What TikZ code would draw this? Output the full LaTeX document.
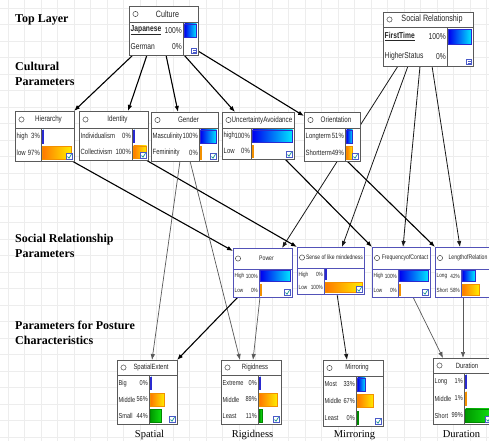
\documentclass[tikz,border=0pt]{standalone}
\usepackage{fontspec}
\setmainfont{Liberation Serif}
\newfontfamily\nodefont[FakeStretch=0.78]{Liberation Sans}
\usetikzlibrary{calc,arrows.meta}
\pgfdeclarelayer{back}
\pgfdeclarelayer{edges}
\pgfsetlayers{back,edges,main}
\definecolor{gridc}{HTML}{EDEDED}
\definecolor{greyb}{HTML}{5A5A5A}
\definecolor{blueb}{HTML}{5252B8}
\definecolor{txt}{HTML}{262626}
\definecolor{bA}{HTML}{0000F0}
\definecolor{bB}{HTML}{00E8FF}
\definecolor{bD}{HTML}{2A2AD0}
\definecolor{oA}{HTML}{FF7A00}
\definecolor{oB}{HTML}{FFEE00}
\definecolor{oD}{HTML}{F29000}
\definecolor{gA}{HTML}{009A00}
\definecolor{gB}{HTML}{10E010}
\definecolor{gD}{HTML}{008800}
\definecolor{chkb}{HTML}{4A5AC8}
\definecolor{chkg}{HTML}{109090}
\tikzset{
  bnbox/.style={draw=#1, line width=0.8pt, fill=white, inner sep=0pt, outer sep=0pt, rectangle},
  arrK/.style={-{Latex[length=6pt,width=4.5pt]}, line width=1.1pt, draw=black},
  arrT/.style={-{Latex[length=6pt,width=4.5pt]}, line width=0.8pt, draw=black!90},
  arrG/.style={-{Latex[length=6pt,width=4.5pt]}, line width=0.7pt, draw=black!65},
  layerlab/.style={font=\bfseries\fontsize{12}{15}\selectfont, align=left, anchor=base west, inner sep=0pt},
  botlab/.style={font=\fontsize{10.5}{12}\selectfont, anchor=base, inner sep=0pt},
}
\def\bnf{\fontsize{8}{9}\nodefont}
\def\bnco{6.5}
\def\bnto{4}
% box: name, x1, y1, x2, y2, title bottom, bar column x, border colour, title
\newcommand\bnnode[9]{%
  \node[bnbox=#8, minimum width={(#4-#2)*1pt}, minimum height={(#5-#3)*1pt}] (#1) at ({(#2+#4)/2},{(#3+#5)/2}) {};
  \draw[draw=#8, line width=0.6pt] (#2,#6) -- (#4,#6) (#7,#6) -- (#7,#5);
  \draw[draw=black!70, line width=0.5pt] ({#2+\bnco},{(#3+#6)/2}) circle[radius=2.6];
  \node[inner sep=0pt, text=txt, font=\bnf] at ({(#2+#4)/2+\bnto},{(#3+#6)/2}) {#9};
}
% rows: x1, title bottom, bar x, x2, y2, number of rows, list
\newcommand\bnrows[7]{%
  \pgfmathsetmacro\bnrh{(#5-#2)/#6}%
  \foreach \rlab/\rpc/\rfr/\rcol [count=\ri] in {#7} {%
    \pgfmathsetmacro\yc{#2+(\ri-0.5)*\bnrh}%
    \pgfmathsetmacro\bh{0.78*\bnrh}%
    \pgfmathsetmacro\bw{max(\rfr*(#4-#3-3),0.9)}%
    \pgfmathtruncatemacro\nobar{(\rfr<0)?1:0}%
    \ifnum\nobar=0
      \edef\bardraw{\noexpand\shadedraw[left color=\rcol A,right color=\rcol B,draw=\rcol D,line width=0.3pt]}%
      \bardraw ({#3+1.5},{\yc-\bh/2}) rectangle ({#3+1.5+\bw},{\yc+\bh/2});
    \fi
    \node[anchor=west, inner sep=0pt, text=txt, font=\bnf] at ({#1+1.5},\yc) {\rlab};
    \node[anchor=east, inner sep=0pt, text=txt, font=\bnf] at ({#3-1},\yc) {\rpc};
  }%
}
\newcommand\bncheck[2]{%
  \draw[draw=chkb, fill=white, line width=0.5pt] ({#1-7.5},{#2-7.5}) rectangle ({#1-1.5},{#2-1.5});
  \draw[draw=chkg, line width=0.7pt] ({#1-6.5},{#2-4.5}) -- ({#1-5},{#2-2.8}) -- ({#1-2.5},{#2-6.8});
}
\newcommand\bnlist[2]{%
  \draw[draw=chkb, fill=white, line width=0.5pt] ({#1-6.5},{#2-6.5}) rectangle ({#1-1.5},{#2-1.5});
  \draw[draw=chkb, line width=0.4pt] ({#1-5.5},{#2-4.8}) -- ({#1-2.5},{#2-4.8}) ({#1-5.5},{#2-3.2}) -- ({#1-2.5},{#2-3.2});
}
\begin{document}
\begin{tikzpicture}[x=1pt,y=-1pt]
\useasboundingbox (0,0) rectangle (489,441);
\begin{pgfonlayer}{back}
  \fill[white] (0,0) rectangle (489,441);
  \foreach \g in {8,24.5,...,489} \draw[gridc, line width=0.4pt] (\g,0) -- (\g,441);
  \foreach \g in {8,24.5,...,441} \draw[gridc, line width=0.4pt] (0,\g) -- (489,\g);
\end{pgfonlayer}

% layer labels
\node[layerlab] (ltop) at (15,23) {Top Layer};
\node[layerlab] (lcult) at (15,86) {Cultural\\Parameters};
\node[layerlab] (lsoc) at (15,257) {Social Relationship\\Parameters};
\node[layerlab] (lpost) at (15,344) {Parameters for Posture\\Characteristics};

% top layer
\def\bnf{\fontsize{9.2}{10}\nodefont}
\bnnode{culture}{129}{6}{198}{55}{22}{183}{greyb}{Culture}
\bnnode{social}{383}{12}{473}{66}{27}{447}{greyb}{Social Relationship}
\def\bnf{\fontsize{8.6}{10}\nodefont}
\bnrows{129}{22}{183}{198}{55}{2}{\underline{\textbf{Japanese}}/100\%/1/b, German/0\%/-1/o}
\bnlist{198}{55}
\bnrows{383}{27}{447}{473}{66}{2}{\underline{\textbf{FirstTime}}/100\%/1/b, HigherStatus/0\%/-1/o}
\bnlist{473}{66}

% cultural parameters
\def\bnf{\fontsize{8}{9}\nodefont}
\bnnode{hier}{15}{111}{74}{161}{128}{41}{greyb}{Hierarchy}
\bnnode{ident}{79}{111}{148}{160}{128}{132}{greyb}{Identity}
\bnnode{gender}{151}{112}{218}{161}{128}{199}{greyb}{Gender}
\bnnode{ua}{222}{112}{294}{159}{128}{251}{greyb}{UncertaintyAvoidance}
\bnnode{orient}{304}{112}{360}{161}{128}{345}{greyb}{Orientation}
\def\bnf{\fontsize{7.6}{9}\nodefont}
\bnrows{15}{128}{41}{74}{161}{2}{high/3\%/0.03/b, low/97\%/0.97/o}
\bncheck{74}{161}
\bnrows{79}{128}{132}{148}{160}{2}{Individualism/0\%/0/b, Collectivism/100\%/1/o}
\bncheck{148}{160}
\bnrows{151}{128}{199}{218}{161}{2}{Masculinity/100\%/1/b, Femininity/0\%/0/o}
\bncheck{218}{161}
\bnrows{222}{128}{251}{294}{159}{2}{high/100\%/1/b, Low/0\%/0/o}
\bncheck{294}{159}
\bnrows{304}{128}{345}{360}{161}{2}{Longterm/51\%/0.51/b, Shortterm/49\%/0.49/o}
\bncheck{360}{161}

% social relationship parameters
\def\bnco{5}
\def\bnf{\fontsize{6.6}{7.5}\nodefont}
\bnnode{power}{233}{248}{292}{297}{269}{259}{blueb}{Power}
\bnnode{freq}{372}{247}{430}{297}{269}{398}{blueb}{FrequencyofContact}
\bnnode{length}{435}{247}{493}{297}{269}{461}{blueb}{LengthofRelation}
\def\bnf{\fontsize{6.4}{7.5}\nodefont}
\bnnode{sense}{297}{247}{364}{294}{268}{324}{blueb}{Sense of like mindedness}
\def\bnf{\fontsize{6.0}{7}\nodefont}
\bnrows{233}{269}{259}{292}{297}{2}{High/100\%/1/b, Low/0\%/0/o}
\bncheck{292}{297}
\bnrows{297}{268}{324}{364}{294}{2}{High/0\%/0/b, Low/100\%/1/o}
\bncheck{364}{294}
\bnrows{372}{269}{398}{430}{297}{2}{High/100\%/1/b, Low/0\%/0/o}
\bncheck{430}{297}
\bnrows{435}{269}{461}{493}{297}{2}{Long/42\%/0.42/b, Short/58\%/0.58/o}

% posture characteristics
\def\bnco{6.5}
\def\bnf{\fontsize{7.6}{8.5}\nodefont}
\bnnode{spatial}{117}{360}{177}{424}{375}{149}{greyb}{SpatialExtent}
\bnnode{rigid}{221}{360}{281}{424}{375}{258}{greyb}{Rigidness}
\bnnode{mirror}{323}{360}{383}{426}{376}{356}{greyb}{Mirroring}
\bnnode{duration}{433}{358}{493}{424}{373}{464}{greyb}{Duration}
\def\bnf{\fontsize{7.2}{8.5}\nodefont}
\bnrows{117}{375}{149}{177}{424}{3}{Big/0\%/0/b, Middle/56\%/0.56/o, Small/44\%/0.44/g}
\bncheck{177}{424}
\bnrows{221}{375}{258}{281}{424}{3}{Extreme/0\%/0/b, Middle/89\%/0.89/o, Least/11\%/0.11/g}
\bncheck{281}{424}
\bnrows{323}{376}{356}{383}{426}{3}{Most/33\%/0.33/b, Middle/67\%/0.67/o, Least/0\%/0/g}
\bncheck{383}{426}
\bnrows{433}{373}{464}{493}{424}{3}{Long/1\%/0.01/b, Middle/1\%/0.01/o, Short/99\%/0.99/g}
\bncheck{493}{424}

% bottom labels
\node[botlab] (bspatial) at (149.5,437) {Spatial};
\node[botlab] (brigid) at (252.5,437) {Rigidness};
\node[botlab] (bmirror) at (354.5,437) {Mirroring};
\node[botlab] (bduration) at (461.5,437) {Duration};

% connectors
\begin{pgfonlayer}{edges}
  \draw[arrK] ($(culture.south west)+(4,0)$) -- (hier.north east);
  \draw[arrK] ($(culture.south west)+(18,0)$) -- ($(ident.north east)+(-20,0)$);
  \draw[arrK] ($(culture.south west)+(37,0)$) -- ($(gender.north west)+(27,0)$);
  \draw[arrK] ($(culture.south west)+(55,0)$) -- ($(ua.north west)+(13,0)$);
  \draw[arrK] ($(culture.south east)+(0,-4)$) -- ($(orient.north west)+(0,4)$);
  \draw[arrT] ($(social.south west)+(15,0)$) -- ($(power.north west)+(49,0)$);
  \draw[arrT] ($(social.south west)+(25,0)$) -- ($(sense.north west)+(45,0)$);
  \draw[arrT] ($(social.south west)+(37,0)$) -- ($(freq.north west)+(31,0)$);
  \draw[arrT] ($(social.south west)+(49,0)$) -- ($(length.north west)+(25,0)$);
  \draw[arrK] ($(hier.south east)+(-2,0)$) -- ($(power.north west)+(0,3)$);
  \draw[arrK] ($(ident.south east)+(-2,0)$) -- (sense.north west);
  \draw[arrK] ($(ua.south east)+(-9,0)$) -- (freq.north west);
  \draw[arrK] ($(orient.south west)+(43,0)$) -- (length.north west);
  \draw[arrG] ($(gender.south west)+(29,0)$) -- ($(spatial.north west)+(35,0)$);
  \draw[arrG] ($(gender.south west)+(39,0)$) -- ($(rigid.north west)+(19,0)$);
  \draw[arrK] ($(power.south west)+(5,0)$) -- (spatial.north east);
  \draw[arrG] ($(power.south west)+(27,0)$) -- ($(rigid.north west)+(32,0)$);
  \draw[arrT] ($(sense.south west)+(40,0)$) -- ($(mirror.north west)+(24,0)$);
  \draw[arrG] ($(freq.south west)+(41,0)$) -- ($(duration.north west)+(10,0)$);
  \draw[arrG] ($(length.south west)+(28,0)$) -- ($(duration.north west)+(30,0)$);
\end{pgfonlayer}
\end{tikzpicture}
\end{document}
